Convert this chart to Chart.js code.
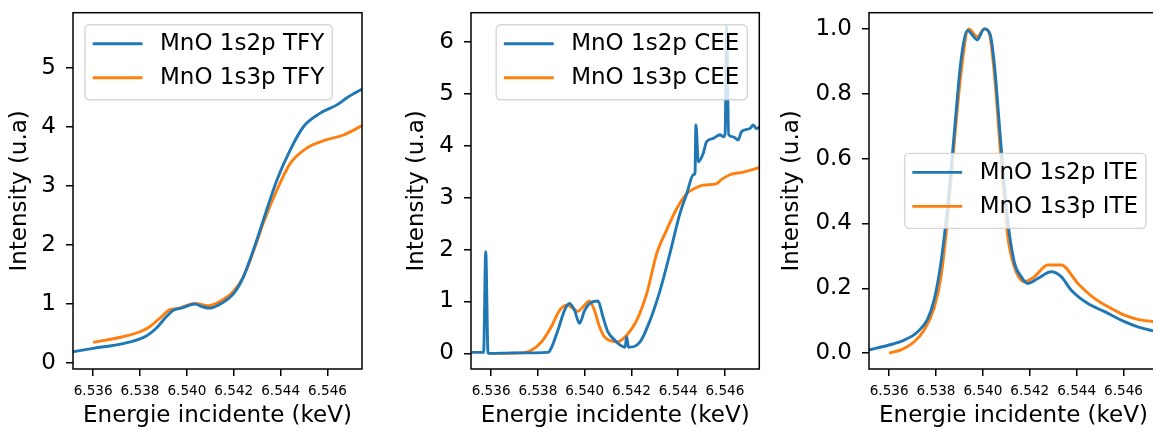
<!DOCTYPE html>
<html lang="fr">
<head>
  <meta charset="UTF-8">
  <title>MnO TFY / CEE / ITE</title>
  <script src="https://cdn.jsdelivr.net/npm/chart.js"></script>
  <style>
    html, body { margin: 0; padding: 0; background: #fff; overflow: hidden; width: 1153px; height: 430px; }
    canvas { position: absolute; top: 0; }
  </style>
</head>
<body>
  <canvas id="tfy" width="380" height="430" style="left:0px"></canvas>
  <canvas id="cee" width="380" height="430" style="left:392px"></canvas>
  <canvas id="ite" width="395" height="430" style="left:775px"></canvas>

  <script>
    // axe x commun (keV)
    const eMin = 6.53514, eMax = 6.54747;
    const xTicks = [6.536, 6.538, 6.540, 6.542, 6.544, 6.546];

    // TFY
    const tfy2pE = [6.53513, 6.5360, 6.53727, 6.53827, 6.53869, 6.53912, 6.5394, 6.53983, 6.54033, 6.54069, 6.54097, 6.54133, 6.5420, 6.54241, 6.54298, 6.54326, 6.54384, 6.54441, 6.54497, 6.54569, 6.5464, 6.54683, 6.54748];
    const tfy2pI = [0.19, 0.25, 0.33, 0.46, 0.59, 0.785, 0.89, 0.94, 1.0, 0.95, 0.93, 0.98, 1.18, 1.46, 2.08, 2.42, 3.10, 3.61, 4.0, 4.23, 4.37, 4.49, 4.64];
    const tfy3pE = [6.5360, 6.53727, 6.5380, 6.53841, 6.53884, 6.53926, 6.53969, 6.54033, 6.54076, 6.5409, 6.5414, 6.5420, 6.54241, 6.54298, 6.54326, 6.54384, 6.54441, 6.54512, 6.54597, 6.54668, 6.54748];
    const tfy3pI = [0.35, 0.446, 0.53, 0.615, 0.757, 0.90, 0.93, 1.01, 0.98, 0.97, 1.04, 1.22, 1.46, 2.05, 2.37, 2.93, 3.38, 3.64, 3.78, 3.86, 4.02];
    const tfyTicks = [0, 1, 2, 3, 4, 5];

    // CEE
    const cee2pE = [6.53516, 6.53568, 6.53577, 6.53587, 6.5370, 6.53843, 6.53857, 6.53886, 6.53914, 6.53935, 6.53957, 6.53978, 6.5400, 6.54021, 6.54057, 6.54078, 6.54099, 6.54128, 6.54152, 6.54173, 6.5418, 6.54187, 6.54237, 6.5428, 6.54323, 6.54365, 6.54408, 6.54437, 6.54465, 6.54472, 6.54476, 6.54486, 6.54507, 6.54522, 6.5455, 6.54579, 6.54593, 6.54601, 6.54607, 6.54616, 6.54635, 6.54657, 6.54671, 6.54707, 6.54721, 6.54735, 6.54748];
    const cee2pI = [0.02, 0.02, 1.96, 0.0, 0.01, 0.02, 0.10, 0.45, 0.83, 0.96, 0.83, 0.58, 0.83, 0.96, 1.01, 0.71, 0.42, 0.26, 0.16, 0.12, 0.32, 0.12, 0.22, 0.64, 1.22, 1.93, 2.70, 3.08, 3.44, 3.47, 4.40, 3.69, 3.85, 4.08, 4.14, 4.21, 4.17, 4.24, 6.29, 4.21, 4.17, 4.11, 4.27, 4.33, 4.40, 4.33, 4.36];
    const cee3pE = [6.5360, 6.5373, 6.53772, 6.53815, 6.53857, 6.53893, 6.53924, 6.5395, 6.5397, 6.5400, 6.5402, 6.54042, 6.54064, 6.54085, 6.54113, 6.54138, 6.5418, 6.54223, 6.54266, 6.54308, 6.54351, 6.54394, 6.54437, 6.54472, 6.54507, 6.54565, 6.54586, 6.54621, 6.54678, 6.54748];
    const cee3pI = [0.0, 0.01, 0.06, 0.22, 0.51, 0.83, 0.93, 0.87, 0.81, 0.93, 1.01, 0.83, 0.51, 0.32, 0.24, 0.22, 0.35, 0.64, 1.16, 1.92, 2.38, 2.79, 3.08, 3.18, 3.24, 3.27, 3.35, 3.44, 3.49, 3.58];
    const ceeTicks = [0, 1, 2, 3, 4, 5, 6];

    // ITE
    const ite2pE = [6.53513, 6.5360, 6.53664, 6.53721, 6.53764, 6.53792, 6.53821, 6.53849, 6.53878, 6.53906, 6.53935, 6.53956, 6.53975, 6.54006, 6.5403, 6.54049, 6.54075, 6.54104, 6.54134, 6.54163, 6.54191, 6.54234, 6.54291, 6.54334, 6.54376, 6.54448, 6.54519, 6.54604, 6.54661, 6.54732, 6.54748];
    const ite2pI = [0.01, 0.025, 0.04, 0.065, 0.105, 0.165, 0.28, 0.45, 0.68, 0.9, 0.995, 0.98, 0.966, 1.0, 0.985, 0.89, 0.66, 0.42, 0.28, 0.236, 0.215, 0.23, 0.251, 0.236, 0.195, 0.153, 0.128, 0.097, 0.081, 0.068, 0.066];
    const ite3pE = [6.5360, 6.5365, 6.53707, 6.5375, 6.53792, 6.53821, 6.53849, 6.53878, 6.53906, 6.53939, 6.53977, 6.54006, 6.54027, 6.54049, 6.54077, 6.54106, 6.54134, 6.54177, 6.5422, 6.54277, 6.54334, 6.54405, 6.54476, 6.54547, 6.54604, 6.54661, 6.54732, 6.54748];
    const ite3pI = [0.0, 0.01, 0.035, 0.072, 0.14, 0.235, 0.41, 0.65, 0.86, 1.0, 0.976, 1.0, 0.987, 0.86, 0.6, 0.36, 0.266, 0.22, 0.236, 0.272, 0.272, 0.215, 0.169, 0.138, 0.117, 0.104, 0.097, 0.096];
    const iteTicks = [0, 0.2, 0.4, 0.6, 0.8, 1.0];

    const BLUE = '#1f77b4', ORANGE = '#ff7f0e';
    Chart.defaults.font.family = '"DejaVu Sans"';
    Chart.defaults.color = '#000';

    function serie(label, E, I, color) {
      return {
        label,
        data: E.map((x, i) => ({ x, y: I[i] })),
        borderColor: color,
        backgroundColor: color,
        borderWidth: 2.9,
        pointRadius: 0,
        cubicInterpolationMode: 'monotone',
        fill: false
      };
    }

    // cadre noir autour de la zone du graphe + légende façon matplotlib
    function cadreLegende(loc) {
      return {
        id: 'cadreLegende',
        afterDatasetsDraw(chart) {
          const ctx = chart.ctx, a = chart.chartArea;
          ctx.save();
          ctx.strokeStyle = '#000';
          ctx.lineWidth = 1.5;
          ctx.strokeRect(a.left, a.top, a.right - a.left, a.bottom - a.top);

          ctx.font = '23px "DejaVu Sans"';
          const sets = chart.data.datasets;
          const tw = Math.max(...sets.map(d => ctx.measureText(d.label).width));
          const w = 75 + tw + 8, h = 75, pad = 12;
          const x = loc.endsWith('left') ? a.left + pad : a.right - pad - w;
          const y = loc.startsWith('upper') ? a.top + pad : (a.top + a.bottom) / 2 - h / 2;

          ctx.beginPath();
          ctx.roundRect(x, y, w, h, 4.5);
          ctx.fillStyle = 'rgba(255,255,255,0.8)';
          ctx.fill();
          ctx.strokeStyle = 'rgba(204,204,204,0.8)';
          ctx.lineWidth = 1.4;
          ctx.stroke();

          sets.forEach((d, i) => {
            const cy = y + 19 + i * 34;
            ctx.beginPath();
            ctx.moveTo(x + 7.7, cy);
            ctx.lineTo(x + 57.5, cy);
            ctx.strokeStyle = d.borderColor;
            ctx.lineWidth = 2.9;
            ctx.stroke();
            ctx.fillStyle = '#000';
            ctx.textBaseline = 'middle';
            ctx.textAlign = 'left';
            ctx.fillText(d.label, x + 75, cy + 0.5);
          });
          ctx.restore();
        }
      };
    }

    function graphe(id, datasets, yMin, yMax, yTicks, yDec, yWidth, yTitlePad, padRight, loc) {
      const ctx = document.getElementById(id).getContext('2d');
      return new Chart(ctx, {
        type: 'line',
        data: { datasets },
        options: {
          responsive: false,
          animation: false,
          devicePixelRatio: 1,
          layout: { padding: { top: 12.7, right: padRight, bottom: 0, left: 0 } },
          plugins: { legend: { display: false }, tooltip: { enabled: false } },
          scales: {
            x: {
              type: 'linear',
              min: eMin,
              max: eMax,
              afterBuildTicks: s => { s.ticks = xTicks.map(v => ({ value: v })); },
              afterFit: s => { s.height = 61; s.paddingLeft = 0; s.paddingRight = 0; },
              ticks: {
                font: { size: 13.6 },
                padding: 7,
                maxRotation: 0,
                autoSkip: false,
                callback: v => v.toFixed(3)
              },
              grid: { drawOnChartArea: false, drawTicks: true, tickLength: 7, color: '#000', lineWidth: 1.5 },
              border: { display: false },
              title: { display: true, text: 'Energie incidente (keV)', font: { size: 23 }, padding: { top: 0, bottom: 0 } }
            },
            y: {
              min: yMin,
              max: yMax,
              afterBuildTicks: s => { s.ticks = yTicks.map(v => ({ value: v })); },
              afterFit: s => { s.width = yWidth; s.paddingTop = 0; s.paddingBottom = 0; },
              ticks: {
                font: { size: 23 },
                padding: 10,
                callback: v => v.toFixed(yDec)
              },
              grid: { drawOnChartArea: false, drawTicks: true, tickLength: 7, color: '#000', lineWidth: 1.5 },
              border: { display: false },
              title: { display: true, text: 'Intensity (u.a)', font: { size: 23 }, padding: { top: yTitlePad, bottom: 0 } }
            }
          }
        },
        plugins: [cadreLegende(loc)]
      });
    }

    graphe('tfy', [
      serie('MnO 1s2p TFY', tfy2pE, tfy2pI, BLUE),
      serie('MnO 1s3p TFY', tfy3pE, tfy3pI, ORANGE)
    ], -0.1, 5.93, tfyTicks, 0, 73, 6, 18, 'upper left');

    graphe('cee', [
      serie('MnO 1s2p CEE', cee2pE, cee2pI, BLUE),
      serie('MnO 1s3p CEE', cee3pE, cee3pI, ORANGE)
    ], -0.3, 6.56, ceeTicks, 0, 79, 11, 12.7, 'upper right');

    graphe('ite', [
      serie('MnO 1s2p ITE', ite2pE, ite2pI, BLUE),
      serie('MnO 1s3p ITE', ite3pE, ite3pI, ORANGE)
    ], -0.049, 1.05, iteTicks, 1, 94, 3, 12, 'center right');
  </script>
</body>
</html>
